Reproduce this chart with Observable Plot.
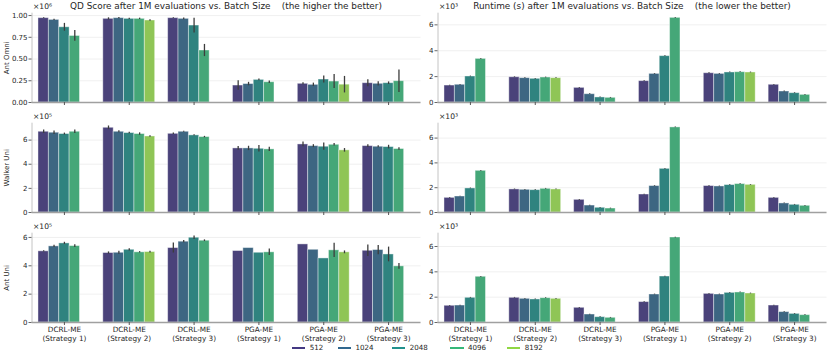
<!DOCTYPE html>
<html><head><meta charset="utf-8">
<script src="https://cdn.jsdelivr.net/npm/d3@7"></script>
<script src="https://cdn.jsdelivr.net/npm/@observablehq/plot@0.6"></script>
<style>
body{margin:0;background:#fff;font-family:"DejaVu Sans",sans-serif;}
#root{position:relative;width:830px;height:358px;overflow:hidden;background:#fff}
.panel{position:absolute}
.title{position:absolute;top:1px;font-size:8.9px;color:#262626;white-space:pre;transform:translateX(-50%);line-height:11px}
.lg-line{position:absolute;top:347px;width:13.5px;height:1.5px}
.lg-text{position:absolute;top:342px;font-size:7.1px;line-height:11px;color:#262626}
</style></head>
<body><div id="root"></div>
<script>
const groups = ["DCRL-ME\n(Strategy 1)","DCRL-ME\n(Strategy 2)","DCRL-ME\n(Strategy 3)","PGA-ME\n(Strategy 1)","PGA-ME\n(Strategy 2)","PGA-ME\n(Strategy 3)"];
const batchSizes = [512,1024,2048,4096,8192];
const envs = ["Ant Omni","Walker Uni","Ant Uni"];
const titles = ["QD Score after 1M evaluations vs. Batch Size    (the higher the better)",
                "Runtime (s) after 1M evaluations vs. Batch Size    (the lower the better)"];

// QD score, Ant Omni (x10^6)
const qdAntOmni = [[0.970,0.950,0.865,0.765,null],[0.962,0.970,0.962,0.962,0.943],[0.970,0.962,0.885,0.598,null],[0.195,0.212,0.260,0.233,null],[0.215,0.203,0.264,0.241,0.205],[0.222,0.215,0.222,0.245,null]];
const qdAntOmniErr = [[0.005,0.008,0.045,0.062,null],[0.012,0.008,0.008,0.008,0.01],[0.005,0.01,0.085,0.07,null],[0.055,0.02,0.01,0.015,null],[0.012,0.02,0.04,0.08,0.095],[0.04,0.025,0.015,0.13,null]];
// Runtime, Ant Omni (x10^3)
const rtAntOmni = [[1.31,1.37,2.01,3.37,null],[1.95,1.88,1.83,1.93,1.88],[1.13,0.64,0.39,0.36,null],[1.65,2.21,3.58,6.54,null],[2.26,2.21,2.32,2.34,2.32],[1.37,0.85,0.72,0.59,null]];
const rtAntOmniErr = [[0.03,0.03,0.03,0.03,null],[0.03,0.03,0.03,0.03,0.03],[0.03,0.03,0.03,0.03,null],[0.03,0.03,0.03,0.03,null],[0.03,0.03,0.03,0.03,0.03],[0.03,0.03,0.03,0.03,null]];
// QD score, Walker Uni (x10^5)
const qdWalker = [[6.69,6.61,6.50,6.69,null],[7.02,6.69,6.58,6.50,6.30],[6.52,6.69,6.39,6.25,null],[5.31,5.31,5.28,5.23,null],[5.64,5.50,5.45,5.61,5.15],[5.50,5.45,5.42,5.26,null]];
const qdWalkerErr = [[0.15,0.15,0.08,0.15,null],[0.15,0.08,0.06,0.1,0.06],[0.06,0.05,0.06,0.06,null],[0.15,0.18,0.27,0.18,null],[0.2,0.12,0.3,0.1,0.15],[0.12,0.08,0.15,0.1,null]];
// Runtime, Walker Uni (x10^3)
const rtWalker = [[1.18,1.29,1.94,3.36,null],[1.86,1.83,1.80,1.91,1.86],[1.02,0.56,0.38,0.32,null],[1.45,2.13,3.52,6.86,null],[2.13,2.10,2.21,2.29,2.23],[1.18,0.73,0.62,0.54,null]];
const rtWalkerErr = [[0.03,0.03,0.03,0.03,null],[0.03,0.03,0.03,0.03,0.03],[0.03,0.03,0.03,0.03,null],[0.03,0.03,0.03,0.03,null],[0.03,0.03,0.03,0.03,0.03],[0.03,0.03,0.03,0.03,null]];
// QD score, Ant Uni (x10^5)
const qdAntUni = [[5.02,5.37,5.58,5.39,null],[4.90,4.92,5.13,4.95,4.97],[5.25,5.70,5.98,5.77,null],[5.04,5.25,4.92,4.95,null],[5.51,5.13,4.52,5.09,4.95],[5.06,5.11,4.80,3.96,null]];
const qdAntUniErr = [[0.05,0.08,0.08,0.1,null],[0.08,0.1,0.08,0.05,0.06],[0.35,0.08,0.12,0.06,null],[0,0,0,0.23,null],[0,0,0,0.5,0.1],[0.41,0.33,0.52,0.21,null]];
// Runtime, Ant Uni (x10^3)
const rtAntUni = [[1.32,1.34,1.95,3.61,null],[1.95,1.87,1.82,1.92,1.87],[1.16,0.63,0.42,0.37,null],[1.61,2.21,3.63,6.71,null],[2.26,2.21,2.34,2.37,2.29],[1.34,0.82,0.68,0.58,null]];
const rtAntUniErr = [[0.03,0.03,0.03,0.03,null],[0.03,0.03,0.03,0.03,0.03],[0.03,0.03,0.03,0.03,null],[0.03,0.03,0.03,0.03,null],[0.03,0.03,0.03,0.03,0.03],[0.03,0.03,0.03,0.03,null]];

const qdTicks = [[0,0.25,0.5,0.75,1.0],[0,2,4,6],[0,2,4,6]];
const rtTicks = [0,2,4,6];
const qdExp = ["×10⁶","×10⁵","×10⁵"];
const rtExp = "×10³";

// colours: seaborn viridis (5) + barplot saturation 0.75
const lineColors = batchSizes.map((_, i) => d3.interpolateViridis((i + 1) / 6));
const barColors = lineColors.map(c => { const h = d3.hsl(c); h.s *= 0.75; return h.formatHex(); });

const BW = 0.8 / batchSizes.length;
function rowsOf(vals, errs) {
  const out = [];
  vals.forEach((arr, gi) => arr.forEach((v, hi) => {
    if (v == null) return;
    const x1 = gi - 0.4 + hi * BW;
    out.push({gi, batch: batchSizes[hi], value: v, err: errs[gi][hi], x1, x2: x1 + BW, xc: x1 + BW / 2});
  }));
  return out;
}

const panels = [
  {col:0,row:0,vals:qdAntOmni,errs:qdAntOmniErr,ymax:1.027,ticks:qdTicks[0],fmt:d3.format(".2f"),exp:qdExp[0]},
  {col:1,row:0,vals:rtAntOmni,errs:rtAntOmniErr,ymax:6.9,ticks:rtTicks,fmt:d3.format("d"),exp:rtExp},
  {col:0,row:1,vals:qdWalker,errs:qdWalkerErr,ymax:7.4,ticks:qdTicks[1],fmt:d3.format("d"),exp:qdExp[1]},
  {col:1,row:1,vals:rtWalker,errs:rtWalkerErr,ymax:7.2,ticks:rtTicks,fmt:d3.format("d"),exp:rtExp},
  {col:0,row:2,vals:qdAntUni,errs:qdAntUniErr,ymax:6.3,ticks:qdTicks[2],fmt:d3.format("d"),exp:qdExp[2]},
  {col:1,row:2,vals:rtAntUni,errs:rtAntUniErr,ymax:7.05,ticks:rtTicks,fmt:d3.format("d"),exp:rtExp},
];

const root = document.getElementById("root");
const gIdx = groups.map((_, i) => i);

for (const p of panels) {
  const bottom = p.row === 2;
  const width = p.col === 0 ? 422 : 408;
  const mL = p.col === 0 ? 31.5 : 15.5;
  const mR = p.col === 0 ? 1.5 : 3.5;
  const height = bottom ? 138 : 110;
  const data = rowsOf(p.vals, p.errs);
  const marks = [
    Plot.gridY(p.ticks, {stroke: "#ececec", strokeOpacity: 1, strokeWidth: 0.8}),
    Plot.rectY(data, {x1: "x1", x2: "x2", y: "value", fill: "batch", stroke: "#ffffff", strokeOpacity: 0.45, strokeWidth: 0.9}),
    Plot.ruleX(data, {x: "xc", y1: d => d.value - d.err, y2: d => d.value + d.err, stroke: "#3d3d3d", strokeWidth: 1.3}),
    Plot.ruleX([-0.5], {stroke: "#c4c4c4", strokeWidth: 1}),
    Plot.ruleY([0], {stroke: "#a0a0a0", strokeWidth: 1.3}),
    Plot.axisY({ticks: p.ticks, tickFormat: p.fmt, tickSize: 3, tickPadding: 1.5, stroke: "#666", fontSize: 7,
      label: p.col === 0 ? envs[p.row] : null, labelAnchor: "center", labelArrow: "none", labelOffset: 28}),
    Plot.axisX({ticks: gIdx, tickFormat: () => "", tickSize: 3, stroke: "#555", label: null}),
    Plot.text([p.exp], {frameAnchor: "top-left", dx: 1, dy: -6.5, textAnchor: "start", lineAnchor: "middle", fontSize: 7.6, fill: "#262626"})
  ];
  if (bottom) {
    marks.push(Plot.text(gIdx, {x: d => d, frameAnchor: "bottom", dy: 3.2, lineAnchor: "top", textAnchor: "middle",
      text: d => groups[d], lineHeight: 1.26, fontSize: 7.3, fill: "#262626"}));
  }
  const svg = Plot.plot({
    width, height, marginLeft: mL, marginRight: mR, marginTop: 12.7, marginBottom: height - 102,
    x: {domain: [-0.5, 5.5], axis: null},
    y: {domain: [0, p.ymax], axis: null},
    color: {type: "ordinal", domain: batchSizes, range: barColors},
    style: {fontFamily: "'DejaVu Sans', sans-serif", fontSize: "7px", color: "#262626", background: "transparent", overflow: "visible"},
    marks
  });
  const div = document.createElement("div");
  div.className = "panel";
  div.style.left = (p.col === 0 ? 0 : 422) + "px";
  div.style.top = (p.row * 110) + "px";
  div.appendChild(svg);
  root.appendChild(div);
}

// titles
[[226, titles[0]], [632, titles[1]]].forEach(([cx, t]) => {
  const el = document.createElement("div");
  el.className = "title"; el.style.left = cx + "px"; el.textContent = t;
  root.appendChild(el);
});

// legend (matplotlib-style line handles)
const legendLineLeft = [291.7, 337.5, 391.7, 450, 506.7];
batchSizes.forEach((b, i) => {
  const ln = document.createElement("div"); ln.className = "lg-line";
  ln.style.left = legendLineLeft[i] + "px"; ln.style.background = lineColors[i];
  const lb = document.createElement("div"); lb.className = "lg-text";
  lb.style.left = (legendLineLeft[i] + 18) + "px"; lb.textContent = b;
  root.appendChild(ln); root.appendChild(lb);
});
</script></body></html>
